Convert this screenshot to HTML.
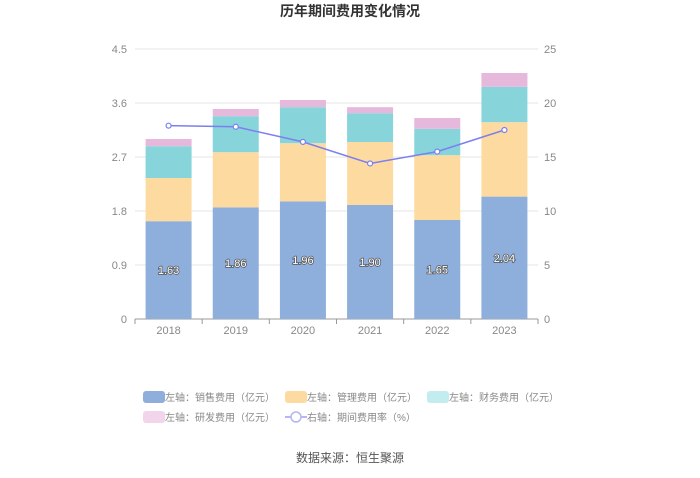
<!DOCTYPE html>
<html><head><meta charset="utf-8"><style>
body{margin:0;background:#fff;font-family:"Liberation Sans","Noto Sans CJK SC",sans-serif;}
svg text{font-family:"Liberation Sans","Noto Sans CJK SC",sans-serif;}
</style></head><body>
<svg id="chart" width="700" height="473">
<text x="350" y="16" text-anchor="middle" font-size="14" font-weight="bold" fill="#333">历年期间费用变化情况</text>
<g id="grid"></g><g id="bars"></g><g id="line"></g><g id="axes"></g>
<g id="legend" font-size="10" fill="#666"></g>
<text x="350" y="462" text-anchor="middle" font-size="12" fill="#555">数据来源：恒生聚源</text>
</svg>
<script>
const categories=["2018","2019","2020","2021","2022","2023"];
const sales=[1.63,1.86,1.96,1.90,1.65,2.04];
const mgmt=[0.72,0.92,0.97,1.05,1.08,1.24];
const finance=[0.53,0.60,0.60,0.48,0.44,0.59];
const rnd=[0.12,0.12,0.12,0.10,0.18,0.23];
const rate=[17.9,17.8,16.4,14.4,15.5,17.5];
const leftTicks=["0","0.9","1.8","2.7","3.6","4.5"];
const rightTicks=["0","5","10","15","20","25"];
const NS="http://www.w3.org/2000/svg";
const X0=135,X1=538,Y0=319,Y1=49;
const bw=(X1-X0)/categories.length;
const xC=i=>X0+bw*(i+0.5);
const yL=v=>Y0-(v/4.5)*(Y0-Y1);
const yR=v=>Y0-(v/25)*(Y0-Y1);
function mk(t,a,p){const e=document.createElementNS(NS,t);for(const k in a)e.setAttribute(k,a[k]);p.appendChild(e);return e;}
const grid=document.getElementById('grid'),axes=document.getElementById('axes');
leftTicks.forEach((t,i)=>{const v=parseFloat(t),y=yL(v);
 const g=mk('line',{x1:X0,x2:X1,y1:y,y2:y,stroke:i?'#e6e6e6':'#999'},grid);
 
 
 const tx=mk('text',{x:X0-8,y:y+4,'text-anchor':'end','font-size':11,fill:'#888'},axes);tx.textContent=t;
 
 });
rightTicks.forEach(t=>{const y=yR(parseFloat(t));
 const tx=mk('text',{x:X1+6,y:y+4,'font-size':11,fill:'#888'},axes);tx.textContent=t;
 
 });
categories.forEach((c,i)=>{
 const tx=mk('text',{x:xC(i),y:Y0+15,'text-anchor':'middle','font-size':11,fill:'#888'},axes);tx.textContent=c;
 
 
 mk('line',{x1:X0+bw*i,x2:X0+bw*i,y1:Y0,y2:Y0+5,stroke:'#999'},axes);});
mk('line',{x1:X1,x2:X1,y1:Y0,y2:Y0+5,stroke:'#999'},axes);
const series=[[sales,'#8eaedb','sales'],[mgmt,'#fddba0','management'],[finance,'#87d5db','finance'],[rnd,'#e6b8db','rnd']];
const bars=document.getElementById('bars');
categories.forEach((c,i)=>{let base=0;
 series.forEach(([arr,col,nm])=>{const v=arr[i];
  const r=mk('rect',{x:xC(i)-23,width:46,y:yL(base+v),height:yL(base)-yL(base+v),fill:col},bars);
  
  
  base+=v;});
 const t=mk('text',{x:xC(i),y:yL(sales[i]/2)+4,'text-anchor':'middle','font-size':11,fill:'#fff',stroke:'#555','stroke-width':1.5,'paint-order':'stroke'},bars);
 t.textContent=sales[i].toFixed(2);
 
 });
const line=document.getElementById('line');
const pl=mk('polyline',{points:rate.map((v,i)=>xC(i)+','+yR(v)).join(' '),fill:'none',stroke:'#7b7ff0','stroke-width':1.5},line);


rate.forEach((v,i)=>{const p=mk('circle',{cx:xC(i),cy:yR(v),r:2.5,fill:'#fff',stroke:'#7b7ff0','stroke-width':1.2},line);
 
 });
const leg=document.getElementById('legend');
const items=[['box','#8eaedb','左轴：销售费用（亿元）',143,397],['box','#fddba0','左轴：管理费用（亿元）',285,397],['box','#c2ecee','左轴：财务费用（亿元）',427,397],['box','#f2d5ea','左轴：研发费用（亿元）',143,417],['line','#7b7ff0','右轴：期间费用率（%）',285,417]];
items.forEach(([k,c,l,x,y])=>{const g=mk('g',{},leg);
 
 
 if(k==='box')mk('rect',{x:x,y:y-6,width:22,height:12,rx:3,fill:c},g);
 else{mk('line',{x1:x,x2:x+22,y1:y,y2:y,stroke:'#b4b6f5','stroke-width':2},g);mk('circle',{cx:x+11,cy:y,r:5,fill:'#fff',stroke:'#b4b6f5','stroke-width':1.5},g);}
 const t=mk('text',{x:x+22,y:y+4,fill:'#888'},g);t.textContent=l;});
</script>
</body></html>
